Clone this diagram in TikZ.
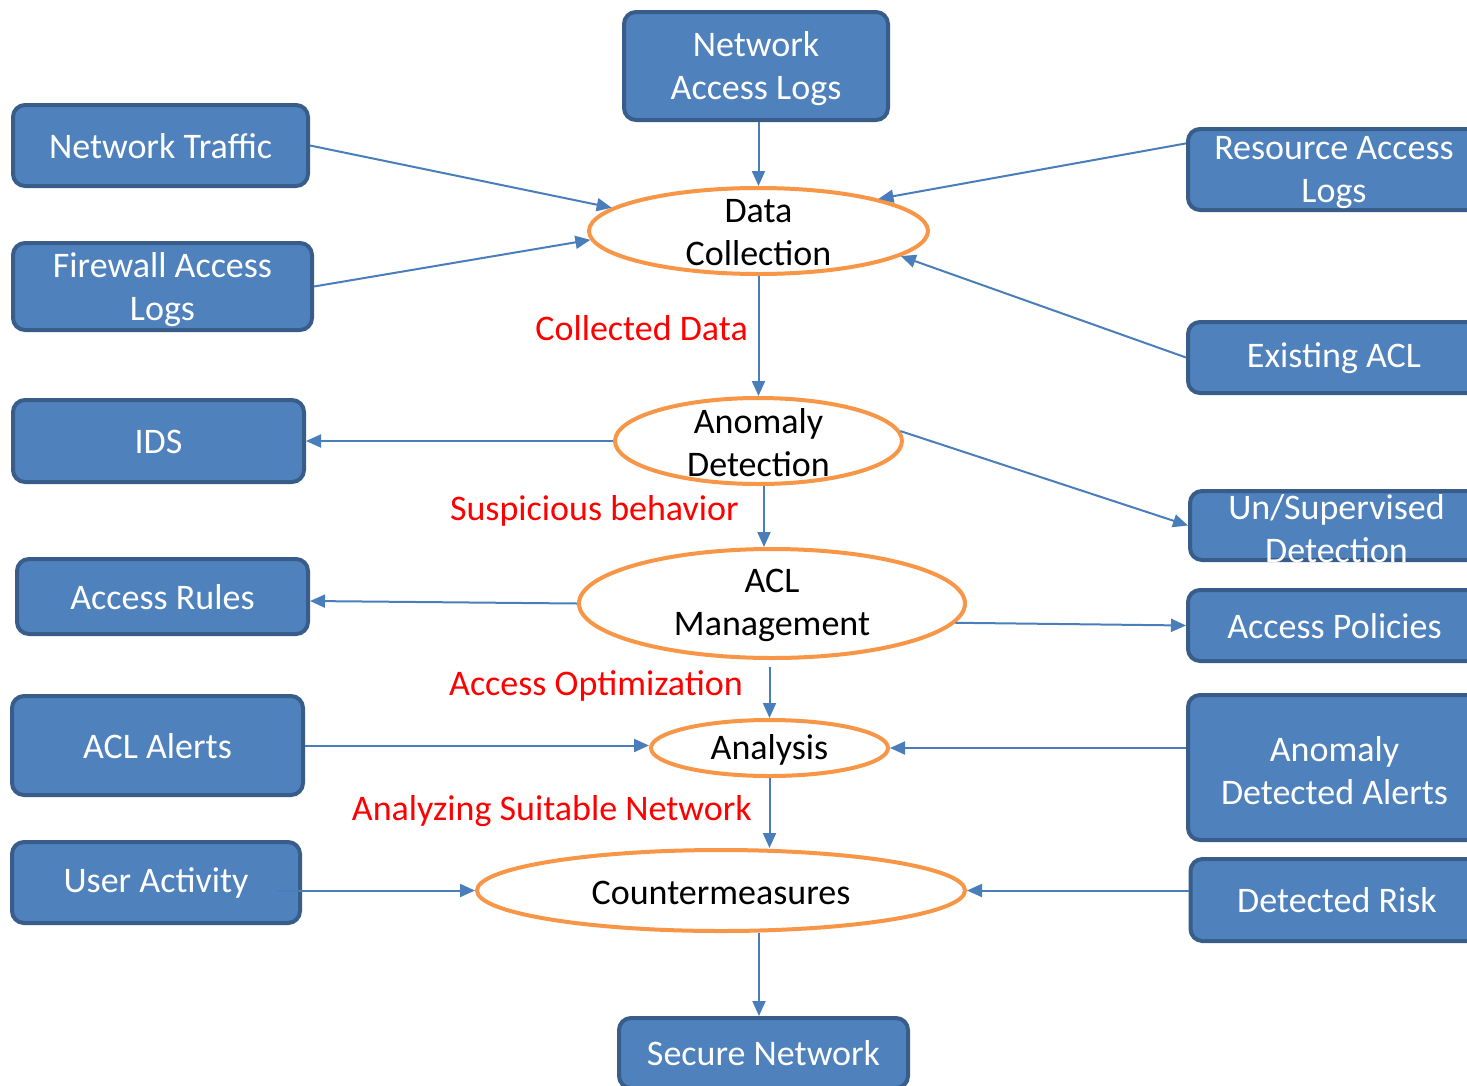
\documentclass[tikz,border=0pt]{standalone}
\usepackage{fontspec}
\setmainfont{Carlito}
\usetikzlibrary{shapes.geometric,arrows.meta,calc}
\definecolor{boxfill}{HTML}{4F81BD}
\definecolor{boxborder}{HTML}{385D8A}
\definecolor{arrowblue}{HTML}{4A7EBB}
\definecolor{ovalline}{HTML}{F79646}
\definecolor{lblred}{HTML}{FF0000}
\tikzset{
  box/.style={draw=boxborder, fill=boxfill, line width=4pt, rounded corners=12pt, inner sep=0pt},
  boxtext/.style={align=center, text=white, inner sep=0pt, yshift=-3pt},
  boxtextone/.style={align=center, text=white, inner sep=0pt, yshift=-0.5pt},
  oval/.style={ellipse, draw=ovalline, line width=4pt, fill=white, inner sep=0pt},
  ovaltext/.style={align=center, text=black, inner sep=0pt, yshift=-2pt},
  arr/.style={draw=arrowblue, line width=2pt, -{Triangle[length=15pt,width=13pt]}},
  lbl/.style={text=lblred, anchor=base east, inner sep=0pt}
}
\begin{document}
\begin{tikzpicture}[x=1pt,y=-1pt,font=\fontsize{36pt}{43pt}\selectfont]
\useasboundingbox (0,0) rectangle (1467,1085);
\clip (0,0) rectangle (1467,1085);
% boxes
\node[box, minimum width=264pt, minimum height=108pt,
  label={[boxtext]center:Network\\Access Logs}] (nal) at (756,66) {};
\node[box, minimum width=295pt, minimum height=81pt,
  label={[boxtextone]center:Network Traffic}] (nt) at (160.5,145.5) {};
\node[box, minimum width=299pt, minimum height=87pt,
  label={[boxtext]center:Firewall Access\\Logs}] (fal) at (162.5,286.5) {};
\node[box, minimum width=292pt, minimum height=81pt,
  label={[boxtext]center:Resource Access\\Logs}] (ral) at (1334,169.5) {};
\node[box, minimum width=292pt, minimum height=71pt,
  label={[boxtextone]center:Existing ACL}] (eacl) at (1334,357.5) {};
\node[box, minimum width=291pt, minimum height=82pt,
  label={[boxtextone]center:IDS}] (ids) at (158.5,441) {};
\node[box, minimum width=293pt, minimum height=69pt,
  label={[boxtext]center:Un/Supervised\\Detection}] (unsup) at (1336.5,525.5) {};
\node[box, minimum width=291pt, minimum height=75pt,
  label={[boxtextone]center:Access Rules}] (ar) at (162.5,596.5) {};
\node[box, minimum width=293pt, minimum height=71pt,
  label={[boxtextone]center:Access Policies}] (ap) at (1334.5,625.5) {};
\node[box, minimum width=291pt, minimum height=99pt,
  label={[boxtextone]center:ACL Alerts}] (acla) at (157.5,745.5) {};
\node[box, minimum width=293pt, minimum height=145pt,
  label={[boxtext]center:Anomaly\\Detected Alerts}] (ada) at (1334.5,767.5) {};
\node[box, minimum width=288pt, minimum height=81pt,
  label={[boxtextone]center:User Activity}] (ua) at (156,882.5) {};
\node[box, minimum width=293pt, minimum height=82pt,
  label={[boxtextone]center:Detected Risk}] (dr) at (1337,900) {};
\node[box, minimum width=289pt, minimum height=70pt,
  label={[boxtextone]center:Secure Network}] (sn) at (763.5,1053) {};
% ovals
\node[oval, minimum width=339pt, minimum height=86pt,
  label={[ovaltext]center:Data\\Collection}] (dc) at (758.5,231) {};
\node[oval, minimum width=287pt, minimum height=86pt,
  label={[ovaltext]center:Anomaly\\Detection}] (ad) at (758.5,441) {};
\node[oval, minimum width=386pt, minimum height=109pt,
  label={[ovaltext]center:ACL\\Management}] (aclm) at (772,603.5) {};
\node[oval, minimum width=237pt, minimum height=56pt,
  label={[ovaltext]center:Analysis}] (an) at (769.5,748) {};
\node[oval, minimum width=488pt, minimum height=81pt,
  label={[ovaltext]center:Countermeasures}] (cm) at (721,890.5) {};
% red labels
\node[lbl] (l1) at (748,340) {Collected Data};
\node[lbl] (l2) at (739,520) {Suspicious behavior};
\node[lbl] (l3) at (743,695) {Access Optimization};
\node[lbl] (l4) at (752,820) {Analyzing Suitable Network};
% connectors
\draw[arr] (dc.north |- nal.south) -- (dc.north);
\draw[arr] (nt.east) -- (dc.171);
\draw[arr] (fal.east) -- (dc.183);
\draw[arr] (ral.170) -- (dc.15);
\draw[arr] (eacl.west) -- (dc.-10);
\draw[arr] (dc.south) -- (ad.north);
\draw[arr] (ad.west) -- (ids.east);
\draw[arr] (ad.4) -- (unsup.west);
\coordinate (p1) at ([xshift=5.5pt]ad.south);
\draw[arr] (p1) -- (p1 |- aclm.north);
\draw[arr] (aclm.west) -- ([yshift=-4.5pt]ar.east);
\draw[arr] (aclm.-6) -- (ap.west);
\coordinate (p2) at ($(an.north |- aclm.south)+(0,7)$);
\draw[arr] (p2) -- (an.north);
\draw[arr] (acla.east) -- (acla.east -| an.west);
\draw[arr] (an.east -| ada.west) -- (an.east);
\draw[arr] (an.south) -- (an.south |- cm.north);
\coordinate (p3) at ($(ua.east |- cm.west)+(-25,0)$);
\draw[arr] (p3) -- (cm.west);
\draw[arr] (cm.east -| dr.west) -- (cm.east);
\coordinate (p4) at ([xshift=38pt]cm.south);
\draw[arr] (p4) -- (p4 |- sn.north);
\end{tikzpicture}
\end{document}
